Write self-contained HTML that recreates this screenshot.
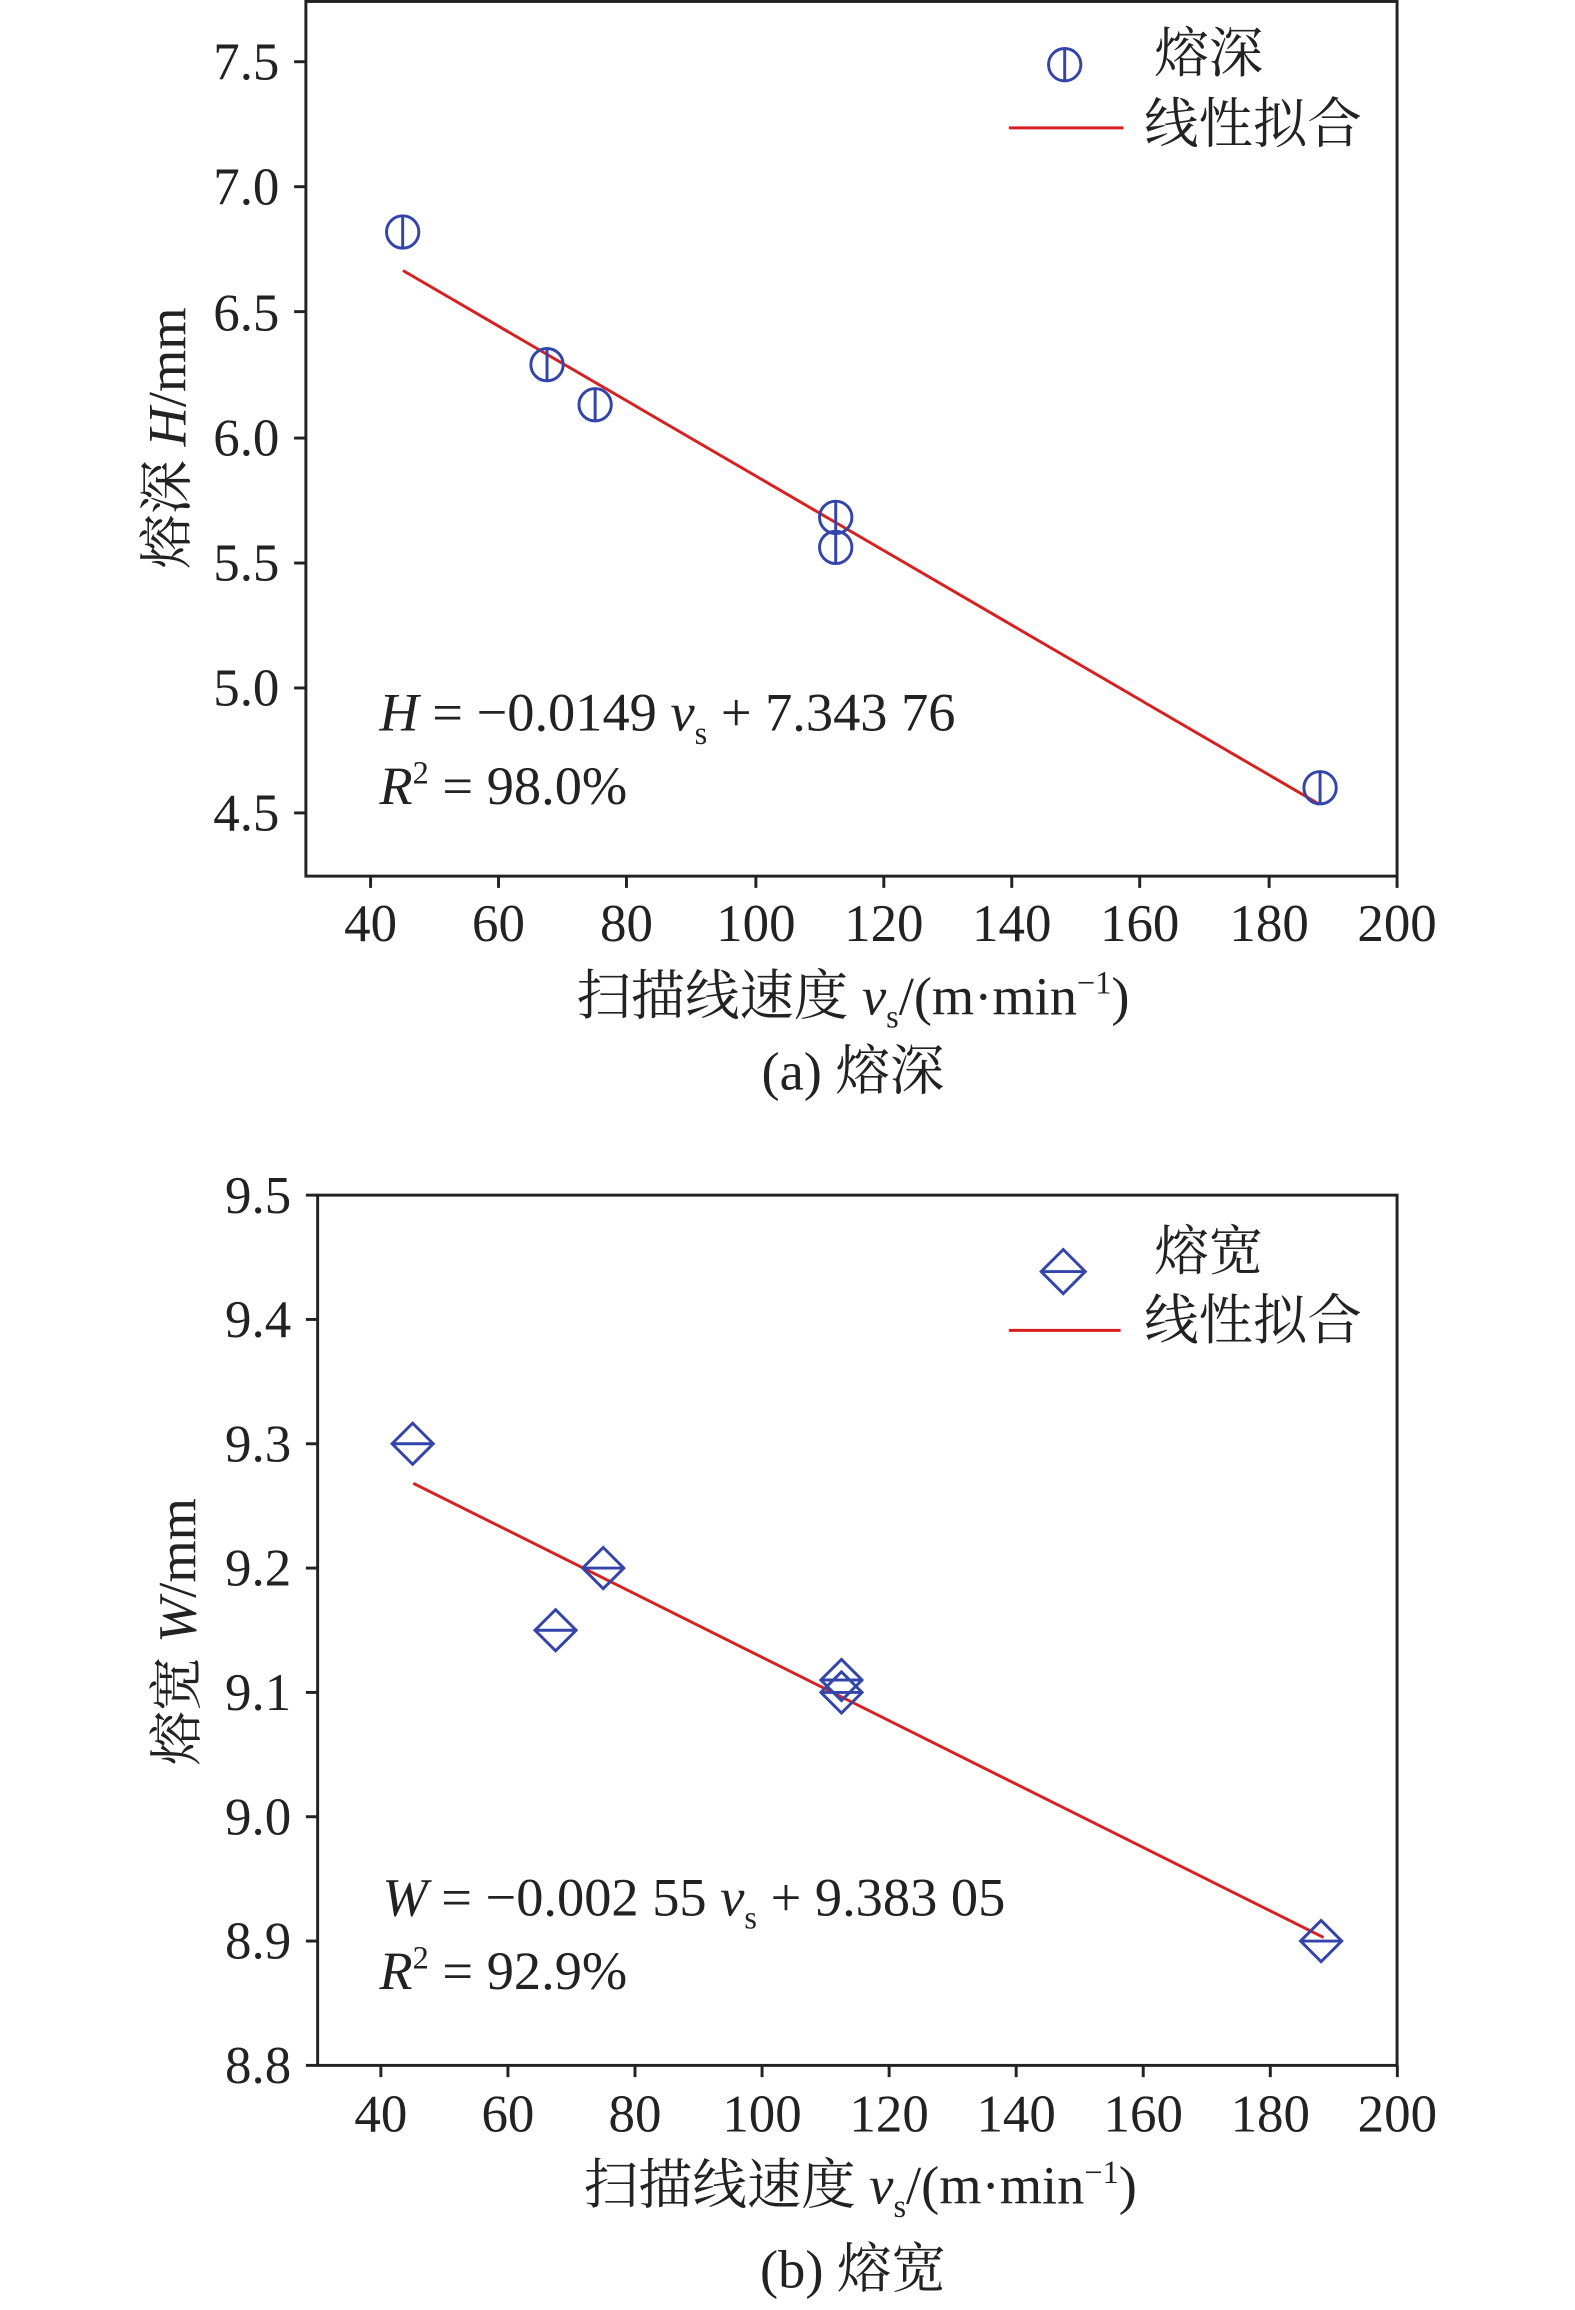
<!DOCTYPE html>
<html><head><meta charset="utf-8"><style>
html,body{margin:0;padding:0;background:#fff;}
svg text{font-family:"Liberation Serif","Noto Serif CJK SC",serif;fill:#222;}
</style></head><body>
<svg id="s" width="1575" height="2305" viewBox="0 0 1071 1568" preserveAspectRatio="none" xmlns="http://www.w3.org/2000/svg">
<rect x="208" y="1" width="742" height="595" fill="none" stroke="#222" stroke-width="2"/>
<g font-size="36" text-anchor="end">
<text x="190" y="54">7.5</text><text x="190" y="139">7.0</text><text x="190" y="225">6.5</text>
<text x="190" y="310">6.0</text><text x="190" y="395">5.5</text><text x="190" y="480">5.0</text><text x="190" y="565">4.5</text>
</g>
<g stroke="#222" stroke-width="2">
<line x1="200" y1="42" x2="208" y2="42"/><line x1="200" y1="127" x2="208" y2="127"/><line x1="200" y1="212" x2="208" y2="212"/>
<line x1="200" y1="298" x2="208" y2="298"/><line x1="200" y1="383" x2="208" y2="383"/><line x1="200" y1="468" x2="208" y2="468"/><line x1="200" y1="553" x2="208" y2="553"/>
<line x1="252" y1="596" x2="252" y2="604"/><line x1="339" y1="596" x2="339" y2="604"/><line x1="426" y1="596" x2="426" y2="604"/><line x1="514" y1="596" x2="514" y2="604"/>
<line x1="601" y1="596" x2="601" y2="604"/><line x1="688" y1="596" x2="688" y2="604"/><line x1="775" y1="596" x2="775" y2="604"/><line x1="863" y1="596" x2="863" y2="604"/><line x1="950" y1="596" x2="950" y2="604"/>
</g>
<g font-size="36" text-anchor="middle">
<text x="252" y="640">40</text><text x="339" y="640">60</text><text x="426" y="640">80</text><text x="514" y="640">100</text>
<text x="601" y="640">120</text><text x="688" y="640">140</text><text x="775" y="640">160</text><text x="863" y="640">180</text><text x="950" y="640">200</text>
</g>
<g font-size="37" text-anchor="middle">
<text x="580" y="690">扫描线速度 <tspan font-style="italic">v</tspan><tspan font-size="22" dy="9">s</tspan><tspan dy="-9">/(m·min</tspan><tspan font-size="22" dy="-14">−1</tspan><tspan dy="14">)</tspan></text>
<text x="580" y="741">(a) 熔深</text>
</g>
<text transform="translate(126,298) rotate(-90)" font-size="37" text-anchor="middle">熔深 <tspan font-style="italic">H</tspan>/mm</text>
<line x1="274" y1="184" x2="897" y2="547" stroke="#d82020" stroke-width="2"/>
<g id="ca" fill="none" stroke="#3344aa" stroke-width="2"></g>
<g font-size="37"><text x="258" y="497"><tspan font-style="italic">H</tspan> = −0.0149 <tspan font-style="italic">v</tspan><tspan font-size="22" dy="9">s</tspan><tspan dy="-9"> + 7.343 76</tspan></text>
<text x="258" y="547"><tspan font-style="italic">R</tspan><tspan font-size="22" dy="-14">2</tspan><tspan dy="14"> = 98.0%</tspan></text>
<text x="785" y="49">熔深</text><text x="778" y="97">线性拟合</text></g>
<circle cx="724" cy="44" r="11" fill="none" stroke="#3344aa" stroke-width="2"/><line x1="724" y1="33" x2="724" y2="55" stroke="#3344aa" stroke-width="2"/>
<line x1="686" y1="87" x2="764" y2="87" stroke="#d82020" stroke-width="2"/>

<rect x="216" y="813" width="734" height="592" fill="none" stroke="#222" stroke-width="2"/>
<g id="tb" stroke="#222" stroke-width="2"></g>
<g id="lb" font-size="36"></g>
<g font-size="37" text-anchor="middle">
<text x="585" y="1499">扫描线速度 <tspan font-style="italic">v</tspan><tspan font-size="22" dy="9">s</tspan><tspan dy="-9">/(m·min</tspan><tspan font-size="22" dy="-14">−1</tspan><tspan dy="14">)</tspan></text>
<text x="580" y="1556">(b) 熔宽</text>
</g>
<text transform="translate(133,1110) rotate(-90)" font-size="37" text-anchor="middle">熔宽 <tspan font-style="italic">W</tspan>/mm</text>
<line x1="281" y1="1009" x2="900" y2="1318" stroke="#d82020" stroke-width="2"/>
<g id="cb" fill="none" stroke="#3344aa" stroke-width="2"></g>
<g font-size="37"><text x="260" y="1303"><tspan font-style="italic">W</tspan> = −0.002 55 <tspan font-style="italic">v</tspan><tspan font-size="22" dy="9">s</tspan><tspan dy="-9"> + 9.383 05</tspan></text>
<text x="258" y="1353"><tspan font-style="italic">R</tspan><tspan font-size="22" dy="-14">2</tspan><tspan dy="14"> = 92.9%</tspan></text>
<text x="785" y="864">熔宽</text><text x="778" y="911">线性拟合</text></g>
<path d="M723 850 L738 865 L723 880 L708 865 Z M708 865 L738 865" fill="none" stroke="#3344aa" stroke-width="2"/>
<line x1="686" y1="905" x2="762" y2="905" stroke="#d82020" stroke-width="2"/>
</svg>
<script>
var NS="http://www.w3.org/2000/svg";
function el(p,t,a,txt){var e=document.createElementNS(NS,t);for(var k in a)e.setAttribute(k,a[k]);if(txt)e.textContent=txt;p.appendChild(e);}
var ca=document.getElementById('ca');
[[45,6.82],[67.5,6.29],[75,6.13],[112.5,5.68],[112.5,5.56],[188,4.60]].forEach(function(p){
 var x=252+(p[0]-40)*4.3625,y=42+(7.5-p[1])*170.3;
 el(ca,'circle',{cx:x,cy:y,r:11});el(ca,'line',{x1:x,y1:y-11,x2:x,y2:y+11});});
var cb=document.getElementById('cb');
[[45,9.30],[67.5,9.15],[75,9.20],[112.5,9.11],[112.5,9.10],[188,8.90]].forEach(function(p){
 var x=259+(p[0]-40)*4.32,y=813+(9.5-p[1])*845.7;
 el(cb,'path',{d:'M'+x+' '+(y-14)+' L'+(x+14)+' '+y+' L'+x+' '+(y+14)+' L'+(x-14)+' '+y+' Z M'+(x-14)+' '+y+' L'+(x+14)+' '+y});});
var tb=document.getElementById('tb'),lb=document.getElementById('lb');
for(var i=0;i<8;i++){var v=9.5-i*0.1,y=813+i*84.57;el(tb,'line',{x1:208,y1:y,x2:216,y2:y});el(lb,'text',{x:198,y:y+12,'text-anchor':'end'},v.toFixed(1));}
for(var i=0;i<9;i++){var x=259+i*86.4;el(tb,'line',{x1:x,y1:1405,x2:x,y2:1413});el(lb,'text',{x:x,y:1450,'text-anchor':'middle'},String(40+i*20));}
</script>
</body></html>
